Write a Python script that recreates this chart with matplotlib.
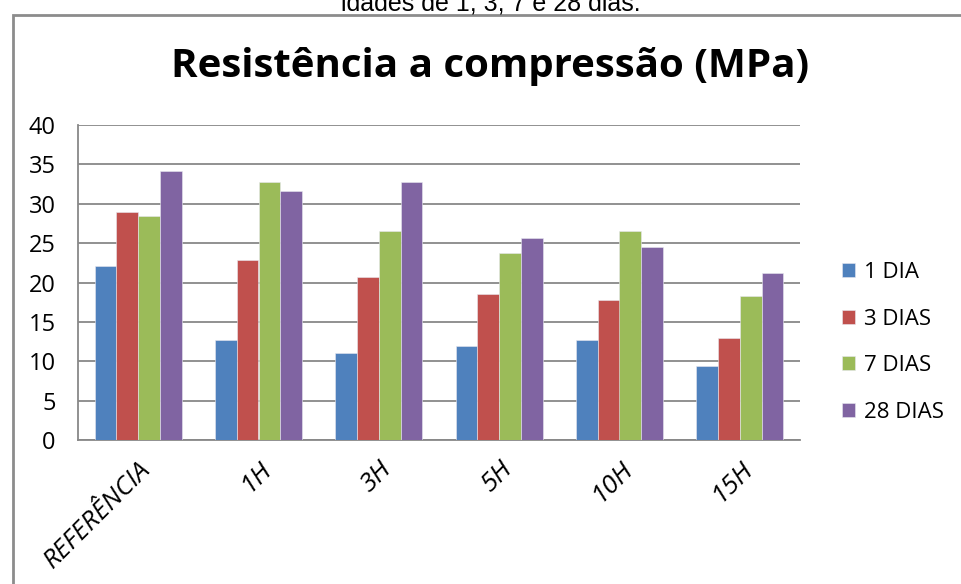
import matplotlib
matplotlib.use("Agg")
import matplotlib.pyplot as plt
from matplotlib.patches import Rectangle
import numpy as np

# Data
categories = ["REFERÊNCIA", "1H", "3H", "5H", "10H", "15H"]
series_names = ["1 DIA", "3 DIAS", "7 DIAS", "28 DIAS"]
dia_1 = [22.1, 12.7, 11.1, 11.9, 12.7, 9.4]
dias_3 = [28.9, 22.9, 20.7, 18.6, 17.8, 12.9]
dias_7 = [28.4, 32.7, 26.5, 23.8, 26.6, 18.3]
dias_28 = [34.2, 31.6, 32.8, 25.7, 24.5, 21.2]
colors = ["#4F81BD", "#C0504D", "#9BBB59", "#8064A2"]

plt.rcParams['font.family'] = ['Open Sans', 'DejaVu Sans']

fig = plt.figure(figsize=(9.62, 5.84), dpi=100)

# outer chart border and clipped caption above it
fig.patches.append(Rectangle((12.5 / 962, -0.1), 1.2, 1.1 - 15 / 584,
                             transform=fig.transFigure, fill=False,
                             edgecolor="#8c8c8c", linewidth=2))
fig.text(0.51, 1 - 11 / 584, "idades de 1, 3, 7 e 28 dias.", ha="center",
         va="baseline", fontsize=18, family="Liberation Sans")

ax = fig.add_axes([78 / 962, 1 - 440 / 584, 722 / 962, 315 / 584])

x = np.arange(len(categories))
width = 0.181
all_series = [dia_1, dias_3, dias_7, dias_28]
for i, (vals, name, c) in enumerate(zip(all_series, series_names, colors)):
    ax.bar(x + (i - 1.5) * width, vals, width, color=c, label=name,
           edgecolor="#e8e8f0", linewidth=0.4, zorder=3)

ax.set_xlim(-0.5, len(categories) - 0.5)
ax.set_ylim(0, 40)
ax.set_yticks(range(0, 41, 5))
ax.yaxis.grid(True, color="#888888", linewidth=1.3, zorder=0)
ax.tick_params(axis="both", length=0)
ax.tick_params(axis="y", labelsize=17, pad=16)
for s in ["top", "right"]:
    ax.spines[s].set_visible(False)
ax.spines["left"].set_color("#888888")
ax.spines["bottom"].set_color("#888888")
ax.spines["left"].set_linewidth(1.3)
ax.spines["bottom"].set_linewidth(1.3)

ax.set_xticks(x)
ax.set_xticklabels(categories, rotation=45, ha="right", rotation_mode="anchor",
                   fontsize=19, style="italic")
ax.tick_params(axis="x", pad=12)

fig.text(490 / 962, 1 - 66 / 584, "Resistência a compressão (MPa)", ha="center",
         va="center", fontsize=29, fontweight="bold")

ax.legend(loc="center left", bbox_to_anchor=(1.03, 0.31), frameon=False,
          fontsize=16, handlelength=0.6, handleheight=0.6, handletextpad=0.4,
          labelspacing=1.15)

plt.savefig("out.png", dpi=100)
plt.close()
